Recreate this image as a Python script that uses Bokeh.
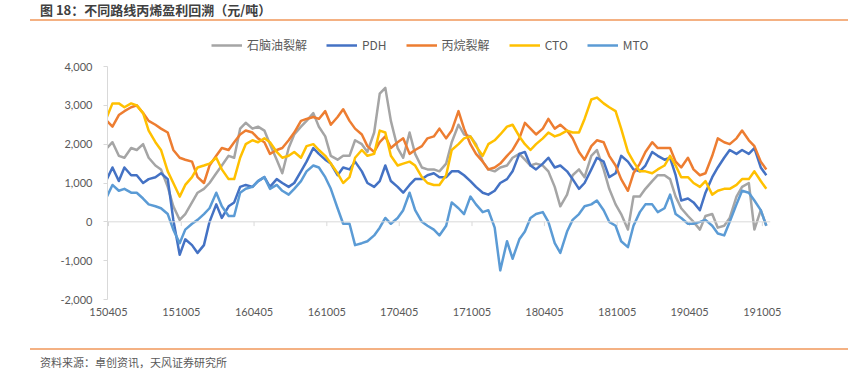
import pandas as pd
from bokeh.plotting import figure
from bokeh.layouts import column
from bokeh.models import (Range1d, FixedTicker, NumeralTickFormatter, DatetimeTickFormatter,
                          Span, Legend, LegendItem, Div)
from bokeh.embed import file_html
from bokeh.resources import INLINE

# ---------------- data (semi-monthly samples) ----------------
dates = pd.date_range("2015-04-01", "2019-10-15", freq="SMS")

naphtha = [1900, 2050, 1700, 1650, 1900, 1850, 2000, 1650, 1450, 1350, 900, 400, 50, 200,
           500, 750, 850, 1000, 1250, 1450, 1700, 1650, 2400, 2550, 2400, 2450, 2350, 2000,
           1600, 1250, 1900, 2250, 2450, 2600, 2800, 2450, 2200, 1700, 1600, 1700, 1700, 2100,
           2000, 1800, 2300, 3300, 3450, 2600, 1900, 1650, 2300, 1750, 1400, 1350, 1350,
           1300, 1500, 2050, 2500, 2250, 2200, 2000, 1550, 1350, 1300, 1400, 1450, 1650, 1750,
           1600, 1450, 1500, 1450, 1300, 900, 400, 700, 1200, 1350, 1150, 1700, 1850, 1350,
           850, 450, 200, -200, 650, 650, 850, 1050, 1200, 1200, 1100, 650, 350, 150, 0, -200,
           150, 200, -150, -100, 100, 650, 900, 1000, -200, 300, -100]

pdh = [1100, 1400, 1050, 1400, 1200, 1200, 1000, 1100, 1150, 1250, 1100, 50, -850, -450,
       -600, -800, -600, 0, 450, 100, 400, 500, 900, 950, 900, 1050, 1150, 900,
       1100, 1000, 900, 1000, 1300, 1550, 1900, 1750, 1600, 1500, 1200, 1400, 1350, 1550,
       1300, 1000, 900, 1050, 1450, 1050, 900, 750, 950, 1100, 1100, 1200, 1250,
       1150, 1150, 1300, 1300, 1200, 1050, 900, 750, 700, 800, 1000, 1100, 1300, 1750,
       1800, 1450, 1350, 1500, 1650, 1400, 1450, 1300, 1100, 850, 1000, 1350, 1650, 1550,
       1150, 1250, 1700, 1550, 1350, 1300, 1450, 1800, 1700, 1600, 1650, 1200, 550, 600,
       500, 300, 750, 1150, 1400, 1650, 1850, 1750, 1850, 1750, 1900, 1400, 1200]

propane = [2600, 2450, 2750, 2850, 2950, 3000, 2800, 2600, 2500, 2400, 2300, 1850, 1650, 1600,
           1550, 1150, 1000, 1450, 1700, 1900, 1850, 2050, 2250, 2350, 2300, 2150, 2050, 1750,
           1850, 1900, 2100, 2300, 2600, 2650, 2700, 2650, 2850, 2500, 2700, 2900, 2600, 2400,
           2250, 1950, 1800, 2050, 2200, 1900, 2050, 2150, 1750, 1850, 1950, 2150, 2200,
           2400, 2150, 2350, 2850, 2400, 2000, 1750, 1550, 1350, 1400, 1500, 1700, 1850, 2150,
           2550, 2400, 2250, 2400, 2650, 2400, 2500, 2350, 2150, 1800, 1600, 1950, 2100, 2050,
           1700, 1450, 1100, 800, 1250, 1500, 1800, 2050, 1900, 1900, 1900, 1550, 1400, 1650,
           1350, 1200, 1250, 1700, 2150, 2050, 2000, 2150, 2350, 2100, 1950, 1550, 1350]

cto = [2700, 3050, 3050, 2950, 3050, 3000, 2800, 2350, 2050, 1850, 1300, 1000, 650, 950,
       1150, 1400, 1450, 1500, 1650, 1350, 1100, 1100, 1650, 2000, 2100, 2050, 2150, 2050,
       1800, 1650, 1700, 1800, 1650, 1950, 2000, 1850, 1700, 1500, 1250, 1000, 1150, 1650,
       1850, 1700, 1750, 2350, 2300, 1700, 1450, 1500, 1550, 1450, 1150, 1000, 950,
       950, 1200, 1850, 2000, 2150, 2200, 1950, 1700, 2000, 2100, 2250, 2450, 2500, 2200,
       2000, 1850, 2000, 2150, 2300, 2200, 2250, 2350, 2300, 2300, 2650, 3150, 3200, 3050,
       2950, 2850, 2400, 1800, 1550, 1300, 1300, 1250, 1350, 1450, 1700, 1450, 1150, 1150,
       1000, 900, 1050, 700, 800, 850, 850, 950, 1100, 1100, 1300, 1050, 850]

mto = [650, 950, 800, 850, 750, 750, 600, 450, 400, 350, 200, -200, -550, -200,
       -50, 50, 200, 350, 750, 400, 150, 150, 750, 850, 900, 1050, 1150, 850,
       950, 800, 700, 850, 1050, 1300, 1450, 1400, 1150, 850, 350, -50, -50, -600,
       -550, -500, -350, -150, 100, -50, 100, 300, 750, 300, 0, -100, -200,
       -350, -100, 500, 350, 200, 650, 450, 250, 300, -150, -1250, -500, -950, -450,
       -250, 100, 200, 250, 0, -550, -800, -250, 50, 200, 400, 450, 550, 300,
       0, -100, -500, -650, -100, 250, 450, 450, 250, 350, 700, 200, 100, -50,
       -50, 0, 50, -100, -300, -350, 0, 450, 800, 750, 550, 300, -100]

series_names = ["石脑油裂解", "PDH", "丙烷裂解", "CTO", "MTO"]
series_values = [naphtha, pdh, propane, cto, mto]
series_colors = ["#A5A5A5", "#4472C4", "#ED7D31", "#FFC000", "#5B9BD5"]

x_tick_dates = ["2015-04-05", "2015-10-05", "2016-04-05", "2016-10-05", "2017-04-05",
                "2017-10-05", "2018-04-05", "2018-10-05", "2019-04-05", "2019-10-05"]
y_ticks = [-2000, -1000, 0, 1000, 2000, 3000, 4000]

title_text = "图 18：不同路线丙烯盈利回溯（元/吨）"
source_text = "资料来源：卓创资讯，天风证券研究所"

# ---------------- figure ----------------
x_tick_ms = [pd.Timestamp(d).value // 10**6 for d in x_tick_dates]
x_tick_dt = [pd.Timestamp(d) for d in x_tick_dates]

# frame extends above 4,000 to host the legend; the axis itself is bounded to the data span
y_top = 4000 + 30 * 6000 / 233

p = figure(width=848, height=327, x_axis_type="datetime",
           x_range=Range1d(pd.Timestamp("2015-04-02 12:00"), pd.Timestamp("2019-10-25 12:00")),
           y_range=Range1d(-2000, y_top),
           output_backend="svg", toolbar_location=None,
           min_border_left=107, min_border_right=78, min_border_top=15, min_border_bottom=49)
p.xgrid.visible = False
p.ygrid.visible = False
p.outline_line_color = None
p.background_fill_color = "white"
p.border_fill_color = "white"

# y axis
p.yaxis.ticker = FixedTicker(ticks=y_ticks)
p.yaxis.bounds = (-2000, 4000)
p.yaxis.formatter = NumeralTickFormatter(format="0,0")
p.yaxis.axis_line_color = "#D9D9D9"
p.yaxis.major_tick_line_color = "#D9D9D9"
p.yaxis.major_tick_out = 4
p.yaxis.major_tick_in = 0
p.yaxis.minor_tick_line_color = None
p.yaxis.major_label_text_font = "Lato"
p.yaxis.major_label_text_font_size = "11px"
p.yaxis.major_label_text_color = "#595959"
p.yaxis.major_label_standoff = 11

# x axis (labels at bottom)
fmt = "%y%m%d"
p.xaxis.ticker = FixedTicker(ticks=x_tick_ms)
p.xaxis.formatter = DatetimeTickFormatter(milliseconds=fmt, seconds=fmt, minsec=fmt, minutes=fmt,
                                          hourmin=fmt, hours=fmt, days=fmt, months=fmt, years=fmt)
p.xaxis.axis_line_color = None
p.xaxis.major_tick_line_color = None
p.xaxis.minor_tick_line_color = None
p.xaxis.major_tick_out = 0
p.xaxis.major_tick_in = 0
p.xaxis.major_label_text_font = "Lato"
p.xaxis.major_label_text_font_size = "11px"
p.xaxis.major_label_text_color = "#595959"
p.xaxis.major_label_standoff = 8

# zero line with small tick marks (category axis crossing at 0)
p.add_layout(Span(location=0, dimension="width", line_color="#D9D9D9", line_width=1))
p.segment(x0=x_tick_dt, y0=[0] * len(x_tick_dt), x1=x_tick_dt, y1=[-110] * len(x_tick_dt),
          line_color="#D9D9D9", line_width=1)

# series
renderers = []
for name, vals, col in zip(series_names, series_values, series_colors):
    r = p.line(dates, vals, line_color=col, line_width=2.5, line_join="round")
    renderers.append(r)

legend = Legend(items=[LegendItem(label=n, renderers=[r]) for n, r in zip(series_names, renderers)],
                orientation="horizontal", location=(104, 246),
                glyph_width=31, glyph_height=12, label_height=12, label_standoff=5, spacing=19,
                padding=0, margin=0, border_line_color=None, background_fill_alpha=0,
                label_text_font="Noto Sans CJK SC", label_text_font_size="12px",
                label_text_color="#595959")
p.add_layout(legend)

# ---------------- title / separators / source ----------------
title_div = Div(text=title_text, width=808, height=19, margin=(0, 0, 0, 40),
                styles={"font-family": "Noto Sans CJK SC", "font-size": "13px",
                        "font-weight": "bold", "color": "#404040", "line-height": "19px",
                        "white-space": "nowrap"})
line_top = Div(text="", width=818, height=2, margin=(0, 0, 0, 30),
               styles={"background-color": "#F4B183"})
line_bottom = Div(text="", width=818, height=2, margin=(0, 0, 0, 30),
                  styles={"background-color": "#F4B183"})
source_div = Div(text=source_text, width=808, height=24, margin=(0, 0, 0, 40),
                 styles={"font-family": "Noto Sans CJK SC", "font-size": "11px",
                         "color": "#595959", "line-height": "24px", "white-space": "nowrap"})

layout = column(title_div, line_top, p, line_bottom, source_div, spacing=0)
layout.margin = 0

open("out.html", "w").write(file_html(layout, INLINE))
